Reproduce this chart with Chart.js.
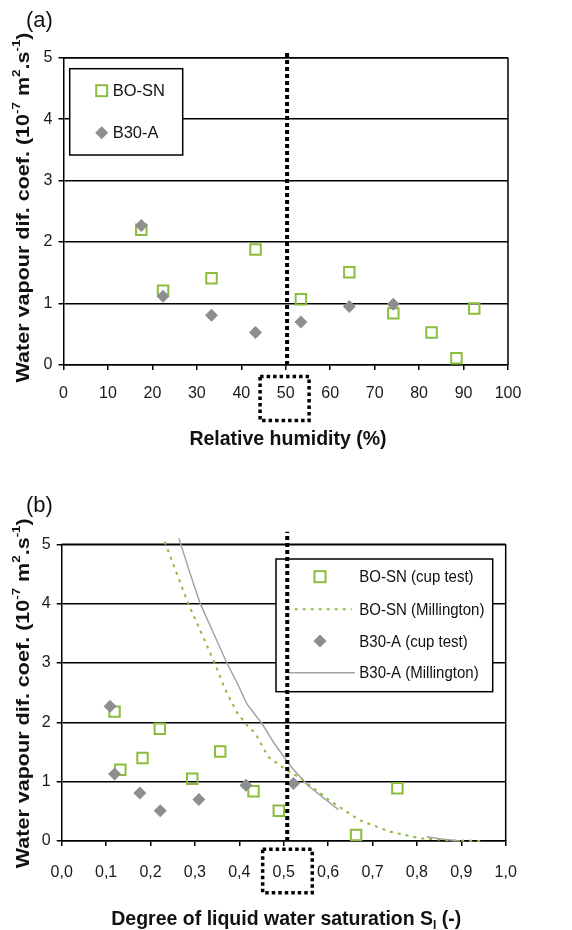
<!DOCTYPE html>
<html><head><meta charset="utf-8">
<script src="https://cdn.jsdelivr.net/npm/chart.js@4"></script>
<style>
html,body{margin:0;padding:0;background:#fff;}
#wrap{position:relative;width:572px;height:930px;overflow:hidden;}
canvas{position:absolute;left:0;}
#ca{top:0;} #cb{top:465px;}
</style></head><body>
<div id="wrap"><canvas id="ca" width="572" height="465"></canvas><canvas id="cb" width="572" height="465"></canvas></div>
<script>
// ---------- DATA ----------
// Panel (a): relative humidity (%) vs vapour diffusion coefficient (1e-7 m2/s)
const rhBOSN  = [17.5, 22.4, 33.3, 43.2, 53.4, 64.3, 74.2, 82.8, 88.4, 92.4];
const dBOSN_a = [2.20, 1.21, 1.41, 1.88, 1.07, 1.51, 0.84, 0.53, 0.11, 0.92];
const rhB30A  = [17.5, 22.4, 33.3, 43.2, 53.4, 64.3, 74.2];
const dB30A_a = [2.27, 1.12, 0.81, 0.53, 0.70, 0.95, 0.99];
const refRH = 50.3;            // dotted reference line, panel (a)
const refTopA = 5.12;

// Panel (b): degree of liquid water saturation vs coefficient
const slBOSN  = [0.119, 0.132, 0.182, 0.221, 0.294, 0.357, 0.432, 0.489, 0.663, 0.756];
const dBOSN_b = [2.18, 1.20, 1.40, 1.89, 1.05, 1.51, 0.84, 0.51, 0.10, 0.89];
const slB30A  = [0.109, 0.119, 0.176, 0.222, 0.309, 0.415, 0.522];
const dB30A_b = [2.27, 1.13, 0.81, 0.51, 0.70, 0.94, 0.97];
// Millington model curves
const slMillBOSN = [0.232, 0.259, 0.285, 0.315, 0.342, 0.369, 0.396, 0.424, 0.434, 0.465, 0.496, 0.506, 0.534, 0.568, 0.602, 0.671, 0.739, 0.808, 0.880, 0.945];
const dMillBOSN  = [5.04, 4.51, 4.00, 3.50, 3.04, 2.54, 2.15, 1.89, 1.84, 1.42, 1.25, 1.19, 1.08, 0.885, 0.69, 0.35, 0.157, 0.045, 0.01, 0.0];
const slMillB30A = [0.264, 0.289, 0.312, 0.342, 0.372, 0.396, 0.417, 0.451, 0.479, 0.506, 0.520, 0.554, 0.623, 0.700, 0.822, 0.860, 0.897];
const dMillB30A  = [5.10, 4.51, 4.00, 3.50, 3.00, 2.65, 2.31, 1.98, 1.64, 1.36, 1.22, 0.94, 0.53, null, 0.07, 0.03, 0.0];
const refSl = 0.508;           // dotted reference line, panel (b)
const refTopB = 5.21;

// Ticks
const xTicksA = [0,10,20,30,40,50,60,70,80,90,100];
const xTicksB = [0,0.1,0.2,0.3,0.4,0.5,0.6,0.7,0.8,0.9,1];
const xTickLabelsB = ['0,0','0,1','0,2','0,3','0,4','0,5','0,6','0,7','0,8','0,9','1,0'];
const yTicks = [0,1,2,3,4,5];

// Legend labels
const legendA = ['BO-SN', 'B30-A'];
const legendB = ['BO-SN (cup test)', 'BO-SN (Millington)', 'B30-A (cup test)', 'B30-A (Millington)'];

// ---------- STYLE ----------
const GREEN = '#8bbd3c';
const GRAY = '#8e8e8e';
const LGRAY = '#a3a3a3';
const FONT = '"Liberation Sans", Arial, Helvetica, sans-serif';
Chart.defaults.font.family = FONT;
Chart.defaults.color = '#1a1a1a';

const pts = (xs, ys) => xs.map((x, i) => ({x: x, y: ys[i]}));

function drawRich(ctx, parts, size, targetLen) {
  let total = 0;
  const items = parts.map(p => {
    const fs = p.s ? size * 0.62 : size;
    ctx.font = 'bold ' + fs + 'px ' + FONT;
    const w = ctx.measureText(p.t).width;
    total += w;
    return {t: p.t, fs: fs, w: w, dy: p.s === 'sup' ? -size * 0.38 : (p.s === 'sub' ? size * 0.22 : 0)};
  });
  if (targetLen) ctx.scale(targetLen / total, 1);
  let x = -total / 2;
  items.forEach(it => {
    ctx.font = 'bold ' + it.fs + 'px ' + FONT;
    ctx.fillText(it.t, x, it.dy);
    x += it.w;
  });
}

const yTitleParts = [
  {t: 'Water vapour dif. coef. (10'}, {t: '-7', s: 'sup'}, {t: ' m'}, {t: '2', s: 'sup'},
  {t: '.s'}, {t: '-1', s: 'sup'}, {t: ')'}
];

function dottedRect(ctx, x, y, w, h) {
  ctx.save();
  ctx.strokeStyle = '#000';
  ctx.lineWidth = 3.5;
  ctx.setLineDash([3.5, 3]);
  ctx.strokeRect(x, y, w, h);
  ctx.restore();
}

function marker(ctx, kind, x, y) {
  ctx.save();
  if (kind === 'sq') {
    ctx.strokeStyle = GREEN; ctx.lineWidth = 2;
    ctx.strokeRect(x - 5.5, y - 5.5, 11, 11);
  } else {
    ctx.fillStyle = GRAY;
    ctx.beginPath();
    ctx.moveTo(x, y - 6.5); ctx.lineTo(x + 6.5, y); ctx.lineTo(x, y + 6.5); ctx.lineTo(x - 6.5, y);
    ctx.closePath(); ctx.fill();
  }
  ctx.restore();
}

function makePlugin(cfg) {
  return {
    id: 'extras' + cfg.tag,
    beforeDatasetsDraw(chart) {
      const ctx = chart.ctx, a = chart.chartArea;
      ctx.save();
      ctx.strokeStyle = '#000'; ctx.lineWidth = 1.5;
      ctx.beginPath(); ctx.moveTo(a.right, a.top); ctx.lineTo(a.right, a.bottom); ctx.stroke();
      ctx.beginPath(); ctx.moveTo(a.left, a.top); ctx.lineTo(a.right, a.top); ctx.stroke();
      // legend box
      const L = cfg.legend;
      ctx.fillStyle = '#fff';
      ctx.fillRect(a.left + L.x, a.top + L.y, L.w, L.h);
      ctx.strokeStyle = '#000'; ctx.lineWidth = 1.5;
      ctx.strokeRect(a.left + L.x, a.top + L.y, L.w, L.h);
      ctx.fillStyle = '#111'; ctx.textBaseline = 'middle'; ctx.textAlign = 'left';
      L.rows.forEach((r) => {
        const y = a.top + r.y;
        if (r.kind === 'sq' || r.kind === 'dia') marker(ctx, r.kind, a.left + L.mx, y);
        else {
          ctx.save();
          ctx.beginPath();
          if (r.kind === 'dot') { ctx.strokeStyle = GREEN; ctx.lineWidth = 2; ctx.setLineDash([3, 5]); }
          else { ctx.strokeStyle = LGRAY; ctx.lineWidth = 1.5; }
          ctx.moveTo(a.left + r.x0, y); ctx.lineTo(a.left + r.x1, y); ctx.stroke();
          ctx.restore();
        }
        ctx.save();
        ctx.font = L.fs + 'px ' + FONT;
        ctx.translate(a.left + L.tx, y + 1);
        ctx.scale(L.sx, 1);
        ctx.fillText(r.label, 0, 0);
        ctx.restore();
      });
      ctx.restore();
    },
    afterDraw(chart) {
      const ctx = chart.ctx, a = chart.chartArea;
      const xs = chart.scales.x;
      ctx.save();
      ctx.fillStyle = '#111';
      ctx.font = '22px ' + FONT; ctx.textAlign = 'left'; ctx.textBaseline = 'middle';
      ctx.fillText(cfg.panel, 26, cfg.panelY);
      const px = xs.getPixelForValue(cfg.boxVal);
      dottedRect(ctx, px + cfg.box.dx, a.bottom + cfg.box.dy, cfg.box.w, cfg.box.h);
      // y title
      ctx.save();
      ctx.translate(cfg.yTitleX, cfg.yTitleY);
      ctx.rotate(-Math.PI / 2);
      ctx.textAlign = 'left'; ctx.textBaseline = 'middle';
      drawRich(ctx, yTitleParts, 19, 350);
      ctx.restore();
      // x title
      ctx.save();
      ctx.translate(cfg.xTitleX, cfg.xTitleY);
      ctx.textAlign = 'left'; ctx.textBaseline = 'alphabetic';
      drawRich(ctx, cfg.xTitle, 19.5);
      ctx.restore();
      ctx.restore();
    }
  };
}

function scalesCfg(opts) {
  return {
    x: {
      type: 'linear', min: opts.xmin, max: opts.xmax,
      afterBuildTicks: s => { s.ticks = opts.xticks.map(v => ({value: v})); },
      ticks: {
        font: {size: 16}, color: '#1a1a1a', padding: opts.xpad, maxRotation: 0, autoSkip: false,
        callback: opts.xcb
      },
      grid: {drawOnChartArea: false, drawTicks: true, tickLength: 5, color: '#000', lineWidth: 1.5},
      border: {color: '#000', width: 1.5},
      title: {display: false},
      afterFit: s => { s.height = opts.xh; }
    },
    y: {
      type: 'linear', min: 0, max: 5,
      afterBuildTicks: s => { s.ticks = yTicks.map(v => ({value: v})); },
      ticks: {font: {size: 16}, color: '#1a1a1a', padding: 6},
      grid: {color: '#000', lineWidth: 1.5, tickLength: 5, drawTicks: true},
      border: {color: '#000', width: 1.5},
      afterFit: s => { s.width = opts.yw; }
    }
  };
}

// ---------- CHART A ----------
new Chart(document.getElementById('ca'), {
  type: 'scatter',
  data: {
    datasets: [
      {label: 'ref', data: [{x: refRH, y: 0}, {x: refRH, y: refTopA}], showLine: true, borderColor: '#000',
       borderWidth: 4, borderDash: [4, 3], pointRadius: 0, clip: false, order: 0},
      {label: legendA[1], data: pts(rhB30A, dB30A_a), pointStyle: 'rectRot', pointRadius: 6.5,
       backgroundColor: GRAY, borderColor: GRAY, borderWidth: 0, order: 1},
      {label: legendA[0], data: pts(rhBOSN, dBOSN_a), pointStyle: 'rect', pointRadius: 7.4,
       backgroundColor: 'rgba(255,255,255,0)', borderColor: GREEN, borderWidth: 2, order: 2}
    ]
  },
  options: {
    responsive: false, animation: false, devicePixelRatio: 1,
    layout: {padding: {top: 57.7, right: 64, left: 0, bottom: 0}},
    plugins: {legend: {display: false}, tooltip: {enabled: false}},
    scales: scalesCfg({xmin: 0, xmax: 100, xticks: xTicksA, xpad: 14, xh: 465 - 365, yw: 63.5,
      xcb: v => String(v)})
  },
  plugins: [makePlugin({
    tag: 'A', panel: '(a)', panelY: 21, boxVal: refRH,
    box: {dx: -27, dy: 11.5, w: 49, h: 44},
    yTitleX: 24, yTitleY: 207.5, xTitleX: 288, xTitleY: 445,
    xTitle: [{t: 'Relative humidity (%)'}],
    legend: {x: 6.2, y: 11, w: 113, h: 86.3, mx: 38.2, tx: 49.2, fs: 17, sx: 0.97,
      rows: [{kind: 'sq', y: 33, label: legendA[0]}, {kind: 'dia', y: 75, label: legendA[1]}]}
  })]
});

// ---------- CHART B ----------
new Chart(document.getElementById('cb'), {
  type: 'scatter',
  data: {
    datasets: [
      {label: 'ref', data: [{x: refSl, y: 0}, {x: refSl, y: refTopB}], showLine: true, borderColor: '#000',
       borderWidth: 4, borderDash: [4, 3], pointRadius: 0, clip: false, order: 0},
      {label: legendB[2], data: pts(slB30A, dB30A_b), pointStyle: 'rectRot', pointRadius: 6.5,
       backgroundColor: GRAY, borderColor: GRAY, borderWidth: 0, order: 1},
      {label: legendB[0], data: pts(slBOSN, dBOSN_b), pointStyle: 'rect', pointRadius: 7.4,
       backgroundColor: 'rgba(255,255,255,0)', borderColor: GREEN, borderWidth: 2, order: 2},
      {label: legendB[1], data: pts(slMillBOSN, dMillBOSN), showLine: true, pointRadius: 0,
       borderColor: GREEN, borderWidth: 2, borderDash: [3, 5], clip: false, order: 3},
      {label: legendB[3], data: pts(slMillB30A, dMillB30A), showLine: true, pointRadius: 0, spanGaps: false,
       borderColor: LGRAY, borderWidth: 1.5, clip: false, order: 4}
    ]
  },
  options: {
    responsive: false, animation: false, devicePixelRatio: 1,
    layout: {padding: {top: 79.3, right: 66.3, left: 0, bottom: 0}},
    plugins: {legend: {display: false}, tooltip: {enabled: false}},
    scales: scalesCfg({xmin: 0, xmax: 1, xticks: xTicksB, xpad: 17, xh: 465 - 376, yw: 61.7,
      xcb: (v, i) => xTickLabelsB[i]})
  },
  plugins: [makePlugin({
    tag: 'B', panel: '(b)', panelY: 40.8, boxVal: refSl,
    box: {dx: -24.6, dy: 8.3, w: 49.6, h: 43.4},
    yTitleX: 24, yTitleY: 228.3, xTitleX: 286.3, xTitleY: 460,
    xTitle: [{t: 'Degree of liquid water saturation S'}, {t: 'l', s: 'sub'}, {t: ' (-)'}],
    legend: {x: 214.3, y: 14.7, w: 216.7, h: 132.7, mx: 258.3, tx: 297.6, fs: 16.5, sx: 0.91,
      rows: [
        {kind: 'sq', y: 32.4, label: legendB[0]},
        {kind: 'dot', y: 65, x0: 225, x1: 290, label: legendB[1]},
        {kind: 'dia', y: 96.7, label: legendB[2]},
        {kind: 'line', y: 128.4, x0: 227.3, x1: 293.3, label: legendB[3]}
      ]}
  })]
});
</script>
</body></html>
